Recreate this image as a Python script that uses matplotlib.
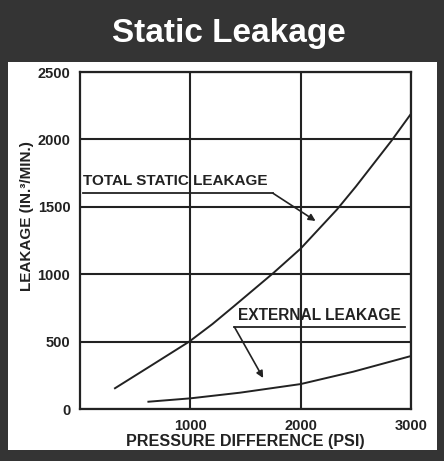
import matplotlib
matplotlib.use("Agg")
import matplotlib.pyplot as plt
from matplotlib.patches import Rectangle

# Data
total_x = [317, 635, 990, 1200, 1390, 1754, 2000, 2329, 2500, 2823, 2992]
total_y = [154, 317, 500, 630, 759, 1010, 1190, 1480, 1650, 1990, 2181]
ext_x = [620, 1000, 1450, 2000, 2478, 3000]
ext_y = [54, 79, 121, 185, 277, 393]
x_ticks = [1000, 2000, 3000]
y_ticks = [0, 500, 1000, 1500, 2000, 2500]
title = "Static Leakage"
xlabel = "PRESSURE DIFFERENCE (PSI)"
ylabel = "LEAKAGE (IN.\u00b3/MIN.)"

W, H = 444, 461
INK = "#222222"
fig = plt.figure(figsize=(W / 100, H / 100), dpi=100)
fig.patch.set_facecolor("#343434")

# white panel
fig.patches.append(Rectangle((8 / W, (H - 450) / H), (437 - 8) / W, (450 - 62) / H,
                             transform=fig.transFigure, facecolor="white",
                             edgecolor="none", zorder=-1))

fig.text(229 / W, 1 - 33 / H, title, color="white", ha="center", va="center",
         fontsize=24, fontweight="bold",
         family=["Liberation Sans Narrow", "Liberation Sans", "DejaVu Sans"])

ax = fig.add_axes([80 / W, (H - 409) / H, (411 - 80) / W, (409 - 72) / H])
ax.set_zorder(2)
ax.set_facecolor("white")
ax.set_xlim(0, 3000)
ax.set_ylim(0, 2500)
ax.set_xticks(x_ticks)
ax.set_yticks(y_ticks)
ax.tick_params(length=0, pad=7, labelsize=10.5, colors=INK)
for lab in ax.get_xticklabels() + ax.get_yticklabels():
    lab.set_fontweight("bold")
    lab.set_family("Liberation Sans")
for s in ax.spines.values():
    s.set_linewidth(1.6)
    s.set_color(INK)
ax.grid(True, color=INK, linewidth=1.5)

ax.plot(total_x, total_y, color=INK, lw=1.4, zorder=4, solid_joinstyle="round")
ax.plot(ext_x, ext_y, color=INK, lw=1.4, zorder=4, solid_joinstyle="round")

ax.set_xlabel(xlabel, fontsize=11.6, fontweight="bold", family="Liberation Sans",
              color=INK, labelpad=1)
fig.text(27 / W, 1 - 216 / H, ylabel, rotation=90, ha="center", va="center",
         fontsize=11, fontweight="bold", family="Liberation Sans", color=INK,
         zorder=3)

# annotations
ax.text(30, 1690, "TOTAL STATIC LEAKAGE", fontsize=11, fontweight="bold",
        family="Liberation Sans", color=INK, va="center", ha="left", zorder=2)
ax.plot([25, 1750], [1600, 1600], color=INK, lw=1.3, zorder=3)
ax.annotate("", xy=(2135, 1395), xytext=(1750, 1600),
            arrowprops=dict(arrowstyle="-|>", color=INK, lw=1.2,
                            mutation_scale=10, shrinkA=0, shrinkB=0), zorder=3)

ax.text(1430, 690, "EXTERNAL LEAKAGE", fontsize=11.2, fontweight="bold",
        family="Liberation Sans", color=INK, va="center", ha="left", zorder=2)
ax.plot([1400, 2950], [608, 608], color=INK, lw=1.3, zorder=3)
ax.annotate("", xy=(1660, 230), xytext=(1400, 608),
            arrowprops=dict(arrowstyle="-|>", color=INK, lw=1.2,
                            mutation_scale=10, shrinkA=0, shrinkB=0), zorder=3)

fig.savefig("out.png", dpi=100, facecolor=fig.get_facecolor())
